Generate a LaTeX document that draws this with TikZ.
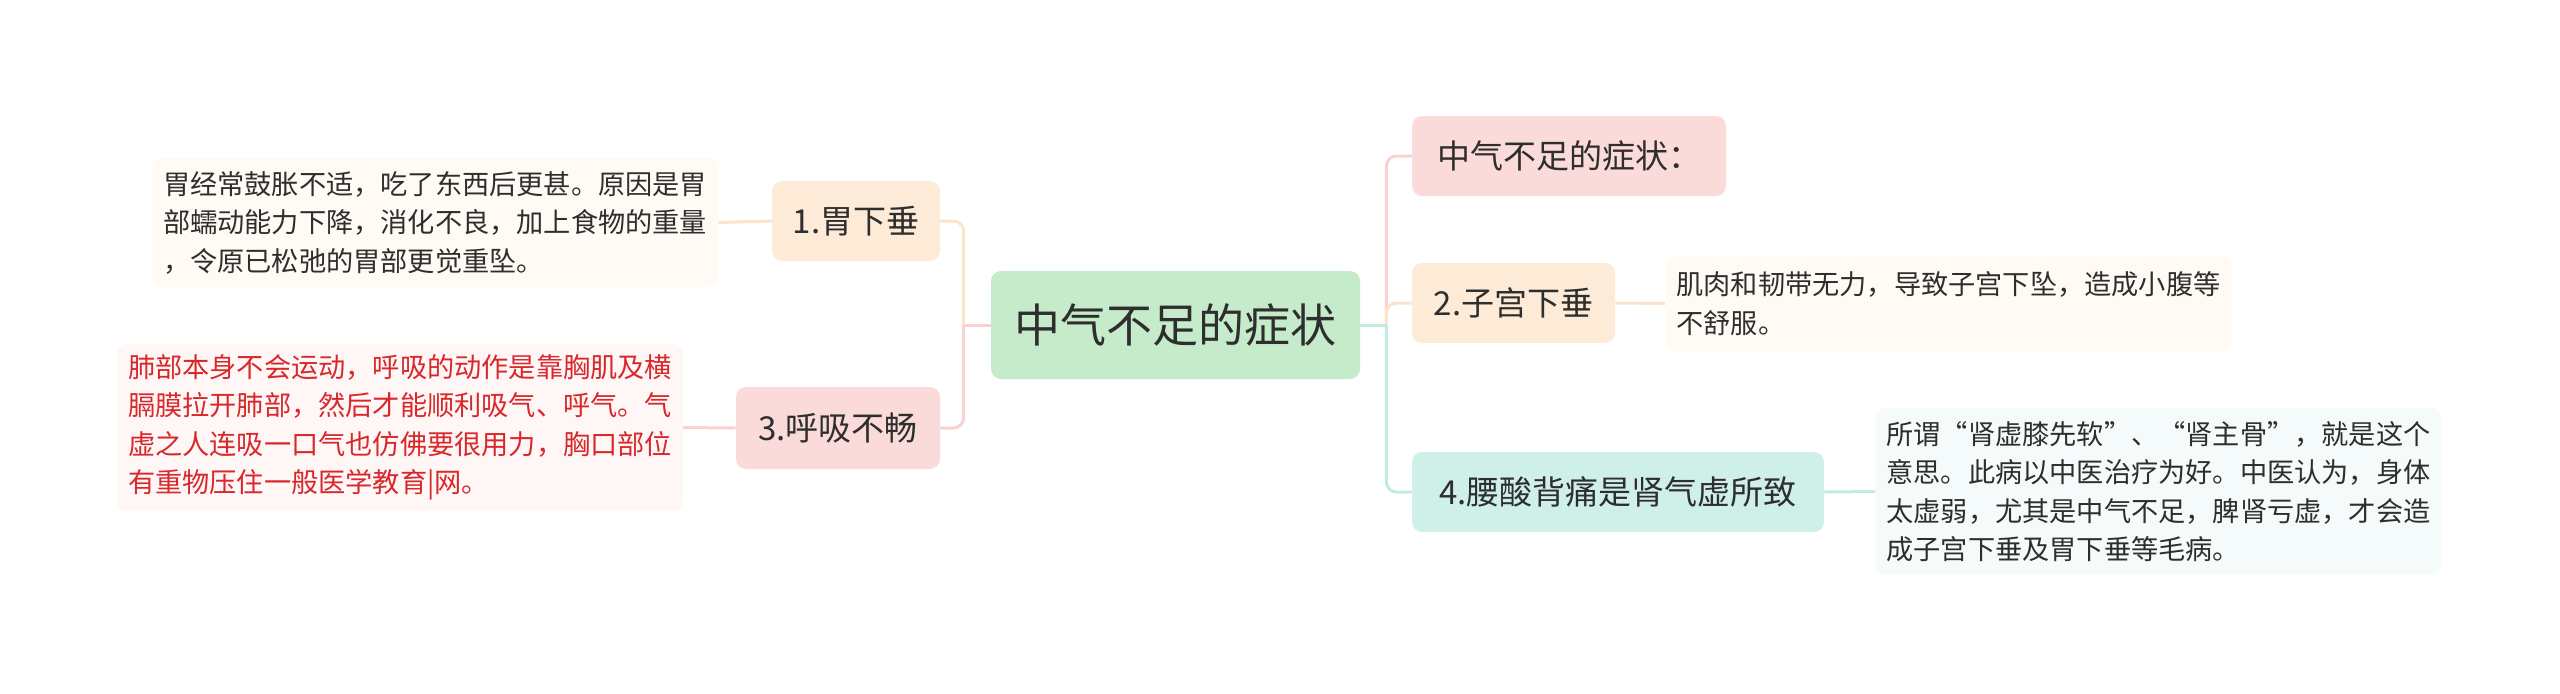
\documentclass[tikz,border=0pt]{standalone}
\usepackage{fontspec}
\setmainfont{Noto Sans CJK SC}
\definecolor{txt}{HTML}{2E2E2E}
\definecolor{redtxt}{HTML}{D8282B}
\definecolor{cgreen}{HTML}{C6EBCB}
\definecolor{cpink}{HTML}{FBDADA}
\definecolor{corange}{HTML}{FDEBD7}
\definecolor{cteal}{HTML}{CFEFE9}
\definecolor{lpink}{HTML}{F8D2D2}
\definecolor{lorange}{HTML}{FBE4CB}
\definecolor{lteal}{HTML}{C2E9E2}
\definecolor{dorange}{HTML}{FFFAF4}
\definecolor{dpink}{HTML}{FFF6F6}
\definecolor{dteal}{HTML}{F4FBFA}
\begin{document}
\begin{tikzpicture}[x=0.5pt,y=-0.5pt,
  box/.style={rounded corners=5pt, inner sep=0pt, align=center, text=txt},
  mainbox/.style={box, fill=cgreen, minimum width=184.5pt, minimum height=54pt, font=\fontsize{23}{28}\selectfont},
  subbox/.style={box, minimum height=40pt, font=\fontsize{16.5}{20}\selectfont},
  descbox/.style={box, align=left, inner xsep=5.5pt, text width=272pt, font=\fontsize{13.6}{19.25}\selectfont},
  link/.style={line width=1.5pt},
  elbowlink/.style={line width=1.5pt, rounded corners=5pt}]
\useasboundingbox (0,0) rectangle (2560,693);

\node[mainbox] (c) at (1175.5,325) {中气不足的症状};

\node[subbox, fill=corange, minimum width=84pt] (g1) at (856,221) {1.胃下垂};
\node[subbox, fill=cpink, minimum width=102pt, minimum height=41pt] (g3) at (838,428) {3.呼吸不畅};
\node[subbox, fill=cpink, minimum width=157pt] (n1) at (1569,156) {中气不足的症状：};
\node[subbox, fill=corange, minimum width=101.5pt] (n2) at (1513.5,303) {2.子宫下垂};
\node[subbox, fill=cteal, minimum width=206pt] (n4) at (1618,492) {4.腰酸背痛是肾气虚所致};

\node[descbox, fill=dorange, minimum height=64.5pt] (d1) at (435,222.5)
  {胃经常鼓胀不适，吃了东西后更甚。原因是胃\\部蠕动能力下降，消化不良，加上食物的重量\\，令原已松弛的胃部更觉重坠。};
\node[descbox, fill=dpink, text=redtxt, minimum height=83.5pt] (d3) at (400,427.5)
  {肺部本身不会运动，呼吸的动作是靠胸肌及横\\膈膜拉开肺部，然后才能顺利吸气、呼气。气\\虚之人连吸一口气也仿佛要很用力，胸口部位\\有重物压住一般医学教育|网。};
\node[descbox, fill=dorange, minimum height=47.5pt] (d2) at (1948.5,303.5)
  {肌肉和韧带无力，导致子宫下坠，造成小腹等\\不舒服。};
\node[descbox, fill=dteal, minimum height=83.5pt] (d4) at (2158.5,491.5)
  {所谓“肾虚膝先软”、“肾主骨”，就是这个\\意思。此病以中医治疗为好。中医认为，身体\\太虚弱，尤其是中气不足，脾肾亏虚，才会造\\成子宫下垂及胃下垂等毛病。};

\path (c.west) ++(-27,0) coordinate (lt);
\path (c.east) ++(26,0) coordinate (rt);

\draw[elbowlink, lorange] (lt) |- (g1.east);
\draw[elbowlink, lpink] (lt) |- (g3.east);
\draw[link, lpink] (c.west) -- (lt);
\draw[elbowlink, lpink] (rt) |- (n1.west);
\draw[elbowlink, lorange] (rt) |- (n2.west);
\draw[elbowlink, lteal] (rt) |- (n4.west);
\draw[link, lteal] (c.east) -- (rt);

\draw[link, lorange] (g1.west) -- (d1.east);
\draw[link, lpink] (g3.west) -- (d3.east);
\draw[link, lorange] (n2.east) -- (d2.west);
\draw[link, lteal] (n4.east) -- (d4.west);
\end{tikzpicture}
\end{document}
